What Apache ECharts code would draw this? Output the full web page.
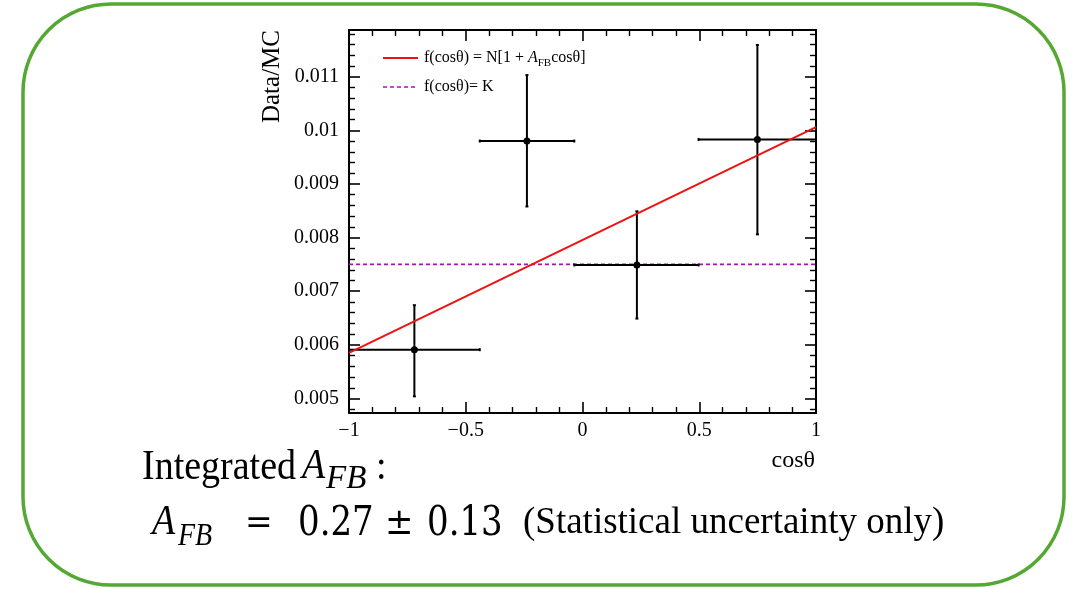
<!DOCTYPE html>
<html>
<head>
<meta charset="utf-8">
<script src="https://cdn.jsdelivr.net/npm/echarts@6/dist/echarts.min.js"></script>
<style>
html,body{margin:0;padding:0;background:#fff;}
#c{width:1076px;height:589px;}
</style>
</head>
<body>
<div id="c"></div>
<script>
// ---- data ----
const binCenter = [-0.72, -0.238, 0.233, 0.749];
const binLow    = [-1.0, -0.44, -0.035, 0.497];
const binHigh   = [-0.44, -0.035, 0.497, 1.0];
const ratio     = [0.00591, 0.0098, 0.00749, 0.00983];
const errLow    = [0.00087, 0.00122, 0.00100, 0.00177];
const errHigh   = [0.00083, 0.00123, 0.00100, 0.00176];
const fitX      = [-1, 1];
const fitY      = [0.00585, 0.01006];
const constK    = 0.0075;
const xTickLabels = {'-1':'\u22121','-0.5':'\u22120.5','0':'0','0.5':'0.5','1':'1'};

const serif = 'Liberation Serif';
const mathFont = 'DejaVu Serif';
const chart = echarts.init(document.getElementById('c'), null, {renderer:'canvas'});

const errData = binCenter.map((x,i)=>[x, ratio[i], binLow[i], binHigh[i], ratio[i]-errLow[i], ratio[i]+errHigh[i]]);

function axisCommon(extra){
  return Object.assign({
    type:'value',
    axisLine:{show:true,onZero:false,lineStyle:{color:'#000',width:2}},
    axisTick:{show:true,inside:true,length:11,lineStyle:{color:'#000',width:1.6}},
    minorTick:{show:true,splitNumber:5,length:6,lineStyle:{color:'#000',width:1.4}},
    splitLine:{show:false},
    minorSplitLine:{show:false}
  }, extra);
}

function txt(x, y, text, font, size, opts){
  opts = opts || {};
  return {type:'text', x:x, y:y, scaleY:opts.sy||1, originY:0,
    style:{text:text, fontFamily:font, fontSize:size, fontStyle:opts.italic?'italic':'normal',
      fill:'#000', align:opts.align||'left', verticalAlign:'middle'}};
}

const option = {
  animation:false,
  backgroundColor:'#fff',
  grid:{left:349, top:30, width:467, height:383, containLabel:false},
  xAxis:[
    axisCommon({min:-1,max:1,interval:0.5,position:'bottom',
      axisLabel:{color:'#000',fontFamily:serif,fontSize:20,margin:8,
        formatter:v=>{const k=String(Math.round(v*10)/10);return xTickLabels[k]!==undefined?xTickLabels[k]:'';}}}),
    axisCommon({min:-1,max:1,interval:0.5,position:'top',axisLabel:{show:false}})
  ],
  yAxis:[
    axisCommon({min:0.00473,max:0.01187,splitNumber:7,position:'left',
      axisLabel:{color:'#000',fontFamily:serif,fontSize:20,margin:10,
        formatter:v=>{const r=v/0.001;if(Math.abs(r-Math.round(r))>1e-6)return '';return String(parseFloat(v.toFixed(4)));}}}),
    axisCommon({min:0.00473,max:0.01187,splitNumber:7,position:'right',axisLabel:{show:false}})
  ],
  series:[
    {
      type:'custom', xAxisIndex:0, yAxisIndex:0, z:3,
      data:errData,
      renderItem:function(params, api){
        const c = api.coord([api.value(0), api.value(1)]);
        const l = api.coord([api.value(2), api.value(1)]);
        const r = api.coord([api.value(3), api.value(1)]);
        const b = api.coord([api.value(0), api.value(4)]);
        const t = api.coord([api.value(0), api.value(5)]);
        const st = {stroke:'#000', lineWidth:2};
        return {type:'group', children:[
          {type:'line', shape:{x1:l[0],y1:l[1],x2:r[0],y2:r[1]}, style:st},
          {type:'line', shape:{x1:b[0],y1:b[1],x2:t[0],y2:t[1]}, style:st},
          {type:'line', shape:{x1:l[0],y1:l[1]-1.5,x2:l[0],y2:l[1]+1.5}, style:st},
          {type:'line', shape:{x1:r[0],y1:r[1]-1.5,x2:r[0],y2:r[1]+1.5}, style:st},
          {type:'line', shape:{x1:t[0]-1.5,y1:t[1],x2:t[0]+1.5,y2:t[1]}, style:st},
          {type:'line', shape:{x1:b[0]-1.5,y1:b[1],x2:b[0]+1.5,y2:b[1]}, style:st},
          {type:'circle', shape:{cx:c[0],cy:c[1],r:3.5}, style:{fill:'#000'}}
        ]};
      }
    },
    {
      type:'line', xAxisIndex:0, yAxisIndex:0, z:4,
      data:fitX.map((x,i)=>[x,fitY[i]]),
      symbol:'none', lineStyle:{color:'#ee1111',width:2}
    },
    {
      type:'line', xAxisIndex:0, yAxisIndex:0, z:2,
      data:fitX.map(x=>[x,constK]),
      symbol:'none', lineStyle:{color:'#a415b0',width:1.6,type:[4,3]}
    }
  ],
  graphic:[
    {type:'rect', shape:{x:23,y:4,width:1041,height:581,r:88}, style:{fill:'none',stroke:'#55a832',lineWidth:3.5}, z:0},
    // y-axis title
    {type:'text', x:272, y:30, rotation:Math.PI/2,
      style:{text:'Data/MC', fontFamily:serif, fontSize:25, fill:'#000', align:'right', verticalAlign:'middle'}},
    // x-axis title
    txt(815, 461, 'cos\u03b8', serif, 24, {align:'right'}),
    // legend
    {type:'line', shape:{x1:383,y1:58,x2:418,y2:58}, style:{stroke:'#ee1111',lineWidth:2}},
    {type:'line', shape:{x1:383,y1:87,x2:418,y2:87}, style:{stroke:'#a415b0',lineWidth:1.6,lineDash:[4,3]}},
    {type:'text', x:424, y:58,
      style:{rich:{n:{fontFamily:serif,fontSize:16,fill:'#000'},i:{fontFamily:serif,fontStyle:'italic',fontSize:16,fill:'#000'},s:{fontFamily:serif,fontSize:11,fill:'#000',padding:[11,0,0,0]}},
        text:'{n|f(cos\u03b8) = N[1 + }{i|A}{s|FB}{n|cos\u03b8]}', verticalAlign:'middle'}},
    txt(424, 87, 'f(cos\u03b8)= K', serif, 16),
    // bottom annotations, line 1
    txt(142, 468, 'Integrated', serif, 38, {sy:1.12}),
    txt(302, 467, 'A', serif, 38, {italic:true, sy:1.12}),
    txt(326, 479, 'FB', serif, 33, {italic:true, sy:1.0}),
    txt(376, 468, ':', serif, 38, {sy:1.12}),
    // line 2
    txt(152, 523, 'A', serif, 38, {italic:true, sy:1.12}),
    txt(178, 537, 'FB', serif, 28, {italic:true, sy:1.12}),
    txt(245, 524, '=', mathFont, 33, {sy:1.1}),
    txt(298, 524, '0.27', mathFont, 34, {sy:1.2}),
    txt(385, 524, '\u00b1', mathFont, 34, {sy:1.1}),
    txt(427, 524, '0.13', mathFont, 34, {sy:1.2}),
    txt(523, 523, '(Statistical uncertainty only)', serif, 37, {sy:1.0})
  ]
};
chart.setOption(option);
</script>
</body>
</html>
